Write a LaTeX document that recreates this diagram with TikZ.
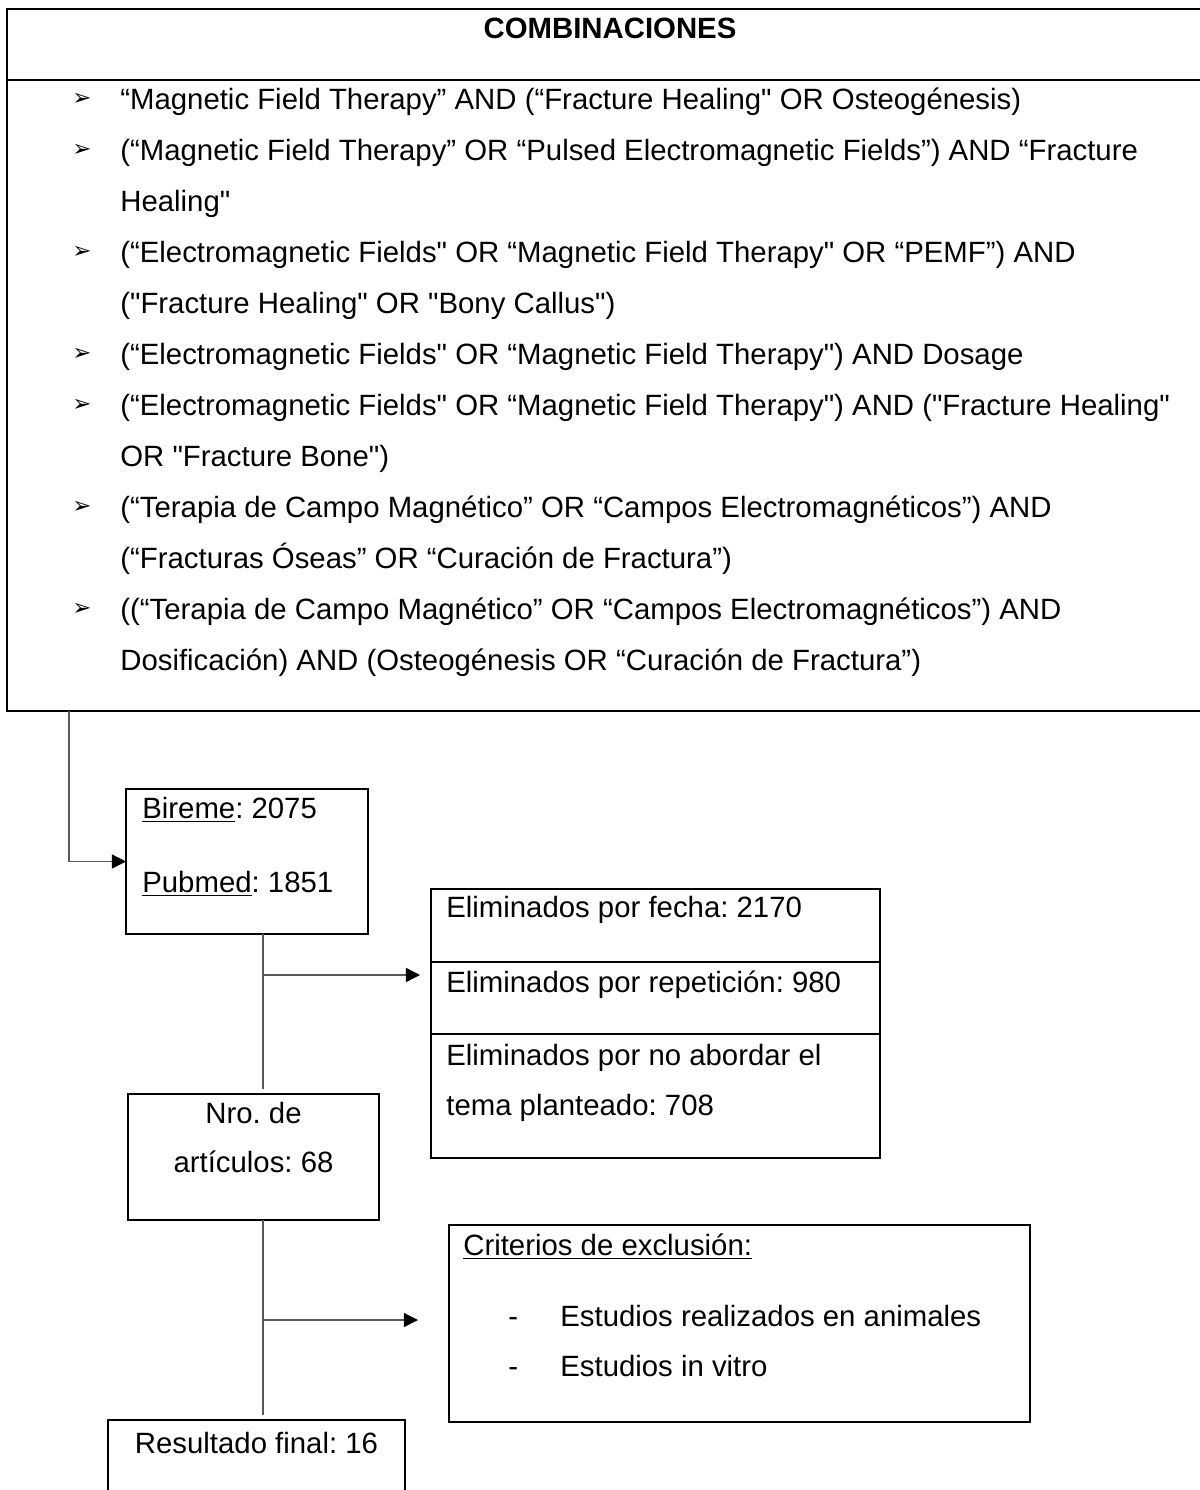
\documentclass[tikz,border=0pt]{standalone}
\usepackage{fontspec}
\setmainfont{Liberation Sans}[Ligatures=TeXOff]
\newfontfamily\dingfont{DejaVu Sans}
\usetikzlibrary{arrows.meta,
  calc,
  positioning
}
\newcommand*{\itembullet}{{\dingfont\fontsize{13}{13}\selectfont ➢}}
\frenchspacing

\begin{document}
\begin{tikzpicture}[
  every node/.style={font=\fontsize{16.7}{29}\selectfont, inner sep=0pt},
  box/.style={draw, line width=1.2pt, outer sep=0pt},
  conn/.style={draw=black!65, line width=0.8pt},
  tip/.style={-{Triangle[length=8pt,width=8pt,color=black]}}
  ]
  \useasboundingbox (0,0) rectangle (24,-29.8);
  \clip (0,0) rectangle (24,-29.8);

  % table of search strings
  \draw[line width=1.2pt] (26.4,-0.18) -- (0.14,-0.18) -- (0.14,-14.22) -- (26.4,-14.22);
  \draw[line width=1.2pt] (0.14,-1.6) -- (26.4,-1.6);
  \node[font=\fontsize{16.7}{29}\selectfont\bfseries] (title) at (12.2,-0.56) {COMBINACIONES};

  \node (m1) at (1.64,-1.98) {\itembullet};
  \node[anchor=base west] (c1) at (2.4,-2.19)
  {“Magnetic Field Therapy” AND (“Fracture Healing" OR Osteogénesis)};
  \node (m2) at (1.64,-3.0) {\itembullet};
  \node[anchor=base west] (c2) at (2.4,-3.21)
  {(“Magnetic Field Therapy” OR “Pulsed Electromagnetic Fields”) AND “Fracture};
  \node[anchor=base west] (c2b) at (2.4,-4.23) {Healing"};
  \node (m3) at (1.64,-5.04) {\itembullet};
  \node[anchor=base west] (c3) at (2.4,-5.25)
  {(“Electromagnetic Fields" OR “Magnetic Field Therapy" OR “PEMF”) AND};
  \node[anchor=base west] (c3b) at (2.4,-6.27) {("Fracture Healing" OR "Bony Callus")};
  \node (m4) at (1.64,-7.08) {\itembullet};
  \node[anchor=base west] (c4) at (2.4,-7.29)
  {(“Electromagnetic Fields" OR “Magnetic Field Therapy") AND Dosage};
  \node (m5) at (1.64,-8.10) {\itembullet};
  \node[anchor=base west] (c5) at (2.4,-8.31)
  {(“Electromagnetic Fields" OR “Magnetic Field Therapy") AND ("Fracture Healing"};
  \node[anchor=base west] (c5b) at (2.4,-9.33) {OR "Fracture Bone")};
  \node (m6) at (1.64,-10.14) {\itembullet};
  \node[anchor=base west] (c6) at (2.4,-10.35)
  {(“Terapia de Campo Magnético” OR “Campos Electromagnéticos”) AND};
  \node[anchor=base west] (c6b) at (2.4,-11.37) {(“Fracturas Óseas” OR “Curación de Fractura”)};
  \node (m7) at (1.64,-12.18) {\itembullet};
  \node[anchor=base west] (c7) at (2.4,-12.39)
  {((“Terapia de Campo Magnético” OR “Campos Electromagnéticos”) AND};
  \node[anchor=base west] (c7b) at (2.4,-13.41) {Dosificación) AND (Osteogénesis OR “Curación de Fractura”)};
  \coordinate (combfoot) at (1.38,-14.22);

  % databases
  \node[box, minimum width=4.84cm, minimum height=2.9cm] (bireme) at (4.94,-17.23) {};
  \node[anchor=base west] (birtxt) at (2.84,-16.37) {\underline{Bireme}: 2075};
  \node[anchor=base west] (pubtxt) at (2.84,-17.85) {\underline{Pubmed}: 1851};
  \draw[conn, tip] (combfoot) |- (bireme.west);

  % removed records
  \node[box, minimum width=8.98cm, minimum height=1.46cm, anchor=north west] (elimA) at (8.62,-17.78) {};
  \node[box, minimum width=8.98cm, minimum height=1.44cm, anchor=north] (elimB) at (elimA.south) {};
  \node[box, minimum width=8.98cm, minimum height=2.48cm, anchor=north] (elimC) at (elimB.south) {};
  \node[anchor=base west] (elimAtxt) at (8.92,-18.35) {Eliminados por fecha: 2170};
  \node[anchor=base west] (elimBtxt) at (8.92,-19.85) {Eliminados por repetición: 980};
  \node[anchor=base west] (elimCtxt) at (8.92,-21.31) {Eliminados por no abordar el};
  \node[anchor=base west] (elimDtxt) at (8.92,-22.31) {tema planteado: 708};

  \node[box, minimum width=5.02cm, minimum height=2.52cm] (nro) at (5.07,-23.14) {};
  \node[anchor=base] (nrotxt) at (5.07,-22.47) {Nro. de};
  \node[anchor=base] (arttxt) at (5.07,-23.45) {artículos: 68};

  \coordinate (spine) at (5.26,0);
  \draw[conn, shorten >=3pt] (spine |- bireme.south) -- (spine |- nro.north);
  \coordinate (fork1) at (5.26,-19.5);
  \draw[conn, tip, shorten >=0.22cm] (fork1) -- (fork1 -| elimA.west);

  % exclusion criteria
  \node[box, minimum width=11.62cm, minimum height=3.94cm] (crit) at (14.79,-26.47) {};
  \node[anchor=base west] (crittxt) at (9.26,-25.11) {\underline{Criterios de exclusión:}};
  \node[anchor=base west] (dashA) at (10.16,-26.53) {-};
  \node[anchor=base west] (critA) at (11.2,-26.53) {Estudios realizados en animales};
  \node[anchor=base west] (dashB) at (10.16,-27.53) {-};
  \node[anchor=base west] (critB) at (11.2,-27.53) {Estudios in vitro};

  \node[box, minimum width=5.94cm, minimum height=3cm, anchor=north] (result) at (5.13,-28.4) {};
  \node[anchor=base] (restxt) at (5.13,-29.07) {Resultado final: 16};

  \draw[conn, shorten >=3pt] (spine |- nro.south) -- (spine |- result.north);
  \coordinate (fork2) at (5.26,-26.4);
  \draw[conn, tip, shorten >=0.62cm] (fork2) -- (fork2 -| crit.west);
\end{tikzpicture}
\end{document}
